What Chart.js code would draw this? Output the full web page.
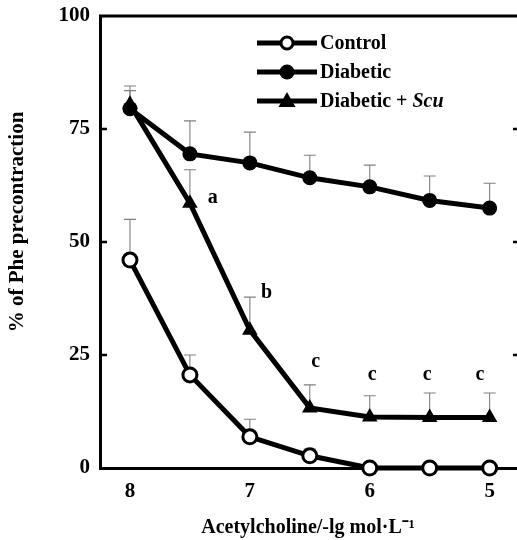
<!DOCTYPE html>
<html>
<head>
<meta charset="utf-8">
<script src="https://cdn.jsdelivr.net/npm/chart.js@4/dist/chart.umd.min.js"></script>
<style>
html,body{margin:0;padding:0;background:#fff;}
#wrap{width:517px;height:540px;position:relative;}
</style>
</head>
<body>
<div id="wrap"><canvas id="c" width="517" height="540"></canvas></div>
<script>
// ---- data ----
const xValues = [8, 7.5, 7, 6.5, 6, 5.5, 5];
const xTickValues = [8, 7, 6, 5];
const yTickValues = [0, 25, 50, 75, 100];
const seriesNames = ['Control', 'Diabetic', 'Diabetic + '];
const control = [46, 20.6, 6.9, 2.7, 0, 0, 0];
const controlErrTop = [55, 25, 10.8, 4.2, 0, 0, 0];
const diabetic = [79.5, 69.5, 67.5, 64.2, 62.2, 59.2, 57.5];
const diabeticErrTop = [83.5, 76.8, 74.3, 69.2, 67, 64.6, 63];
const diabeticScu = [80.5, 58.6, 30.5, 13.3, 11.3, 11.2, 11.2];
const diabeticScuErrTop = [84.5, 66, 37.8, 18.4, 16, 16.6, 16.6];
const annoText = ['a', 'b', 'c', 'c', 'c', 'c'];
const annoX = [7.31, 6.86, 6.45, 5.98, 5.52, 5.08];
const annoY = [59.7, 38.7, 23.5, 20.6, 20.6, 20.6];
const yTitle = '% of Phe precontraction';
const xTitle = 'Acetylcholine/-lg mol·L\u207B\u00B9';

const SERIF = '"Liberation Serif", "Times New Roman", serif';

function pts(vals){ return xValues.map((x,i)=>({x:x, y:vals[i]})); }

const errPlugin = {
  id:'errbars',
  beforeDatasetsDraw(chart){
    const {ctx, scales:{x,y}} = chart;
    const sets = [[control, controlErrTop],[diabetic, diabeticErrTop],[diabeticScu, diabeticScuErrTop]];
    ctx.save();
    ctx.strokeStyle = '#808080';
    ctx.lineWidth = 1.1;
    sets.forEach(([v,e])=>{
      v.forEach((val,i)=>{
        if (e[i] <= val) return;
        const px = x.getPixelForValue(xValues[i]);
        const py0 = y.getPixelForValue(val);
        const py1 = y.getPixelForValue(e[i]);
        ctx.beginPath();
        ctx.moveTo(px, py0); ctx.lineTo(px, py1);
        ctx.moveTo(px-6, py1); ctx.lineTo(px+6, py1);
        ctx.stroke();
      });
    });
    ctx.restore();
  }
};

const framePlugin = {
  id:'frame',
  afterDraw(chart){
    const {ctx, chartArea:a, scales:{x,y}} = chart;
    ctx.save();
    ctx.strokeStyle = '#000';
    ctx.lineWidth = 3;
    ctx.beginPath();
    ctx.moveTo(a.left-1, a.top); ctx.lineTo(a.right+2, a.top);
    ctx.stroke();
    // inward ticks
    ctx.lineWidth = 2.5;
    yTickValues.forEach(v=>{
      if (v===0 || v===100) return;
      const py = y.getPixelForValue(v);
      ctx.beginPath();
      ctx.moveTo(a.left, py); ctx.lineTo(a.left+7, py);
      ctx.moveTo(a.right-3, py); ctx.lineTo(a.right+2, py);
      ctx.stroke();
    });
    // y title
    ctx.fillStyle = '#000';
    ctx.font = 'bold 21px ' + SERIF;
    ctx.textAlign = 'center';
    ctx.textBaseline = 'middle';
    ctx.save();
    ctx.translate(18, 222);
    ctx.rotate(-Math.PI/2);
    ctx.fillText(yTitle, 0, 0);
    ctx.restore();
    // annotations
    ctx.font = 'bold 20px ' + SERIF;
    annoText.forEach((t,i)=>{
      ctx.fillText(t, x.getPixelForValue(annoX[i]), y.getPixelForValue(annoY[i]));
    });
    // legend
    const rows = [43, 72, 101];
    const lx0 = 257, lx1 = 317, mx = 287;
    rows.forEach((ry,i)=>{
      ctx.lineWidth = 5;
      ctx.strokeStyle = '#000';
      ctx.beginPath(); ctx.moveTo(lx0, ry); ctx.lineTo(lx1, ry); ctx.stroke();
      if (i===0){
        ctx.fillStyle='#fff'; ctx.lineWidth=3;
        ctx.beginPath(); ctx.arc(mx, ry, 6, 0, Math.PI*2); ctx.fill(); ctx.stroke();
      } else if (i===1){
        ctx.fillStyle='#000';
        ctx.beginPath(); ctx.arc(mx, ry, 7.5, 0, Math.PI*2); ctx.fill();
      } else {
        ctx.fillStyle='#000';
        ctx.beginPath(); ctx.moveTo(mx, ry-9); ctx.lineTo(mx+8.5, ry+6); ctx.lineTo(mx-8.5, ry+6); ctx.closePath(); ctx.fill();
      }
      ctx.fillStyle='#000';
      ctx.textAlign='left';
      ctx.textBaseline='middle';
      ctx.font = 'bold 20px ' + SERIF;
      ctx.fillText(seriesNames[i], 320, ry+1);
      if (i===2){
        const w = ctx.measureText(seriesNames[i]).width;
        ctx.font = 'italic bold 20px ' + SERIF;
        ctx.fillText('Scu', 320+w, ry+1);
      }
    });
    ctx.restore();
  }
};

const common = {borderColor:'#000', borderWidth:5, showLine:true, clip:false, tension:0};

new Chart(document.getElementById('c'), {
  type:'scatter',
  data:{
    datasets:[
      Object.assign({label:'Control', data:pts(control), pointStyle:'circle', pointRadius:7, pointBorderWidth:3, pointBackgroundColor:'#fff', pointBorderColor:'#000'}, common),
      Object.assign({label:'Diabetic', data:pts(diabetic), pointStyle:'circle', pointRadius:7.5, pointBorderWidth:0, pointBackgroundColor:'#000', pointBorderColor:'#000'}, common),
      Object.assign({label:'Diabetic + Scu', data:pts(diabeticScu), pointStyle:'triangle', pointRadius:9, pointBorderWidth:0, pointBackgroundColor:'#000', pointBorderColor:'#000'}, common)
    ]
  },
  options:{
    responsive:false,
    animation:false,
    devicePixelRatio:1,
    layout:{autoPadding:false, padding:{top:16, right:1, left:0, bottom:0}},
    plugins:{legend:{display:false}, tooltip:{enabled:false}},
    scales:{
      x:{
        type:'linear', reverse:true, min:4.78, max:8.25,
        afterBuildTicks(s){ s.ticks = xTickValues.map(v=>({value:v})); },
        afterFit(s){ s.height = 72; s.paddingLeft = 0; s.paddingRight = 0; },
        grid:{display:false, drawTicks:false},
        border:{display:true, color:'#000', width:3},
        ticks:{color:'#000', padding:11, font:{family:SERIF, size:21, weight:'bold'}, callback:v=>String(v)},
        title:{display:true, text:xTitle, color:'#000', padding:{top:0,bottom:0}, font:{family:SERIF, size:20, weight:'bold'}}
      },
      y:{
        type:'linear', min:0, max:100,
        afterBuildTicks(s){ s.ticks = yTickValues.map(v=>({value:v})); },
        afterFit(s){ s.width = 100; s.paddingTop = 0; s.paddingBottom = 0; },
        grid:{display:false, drawTicks:false},
        border:{display:true, color:'#000', width:3},
        ticks:{color:'#000', padding:10, font:{family:SERIF, size:21, weight:'bold'}},
        title:{display:false}
      }
    }
  },
  plugins:[errPlugin, framePlugin]
});
</script>
</body>
</html>
